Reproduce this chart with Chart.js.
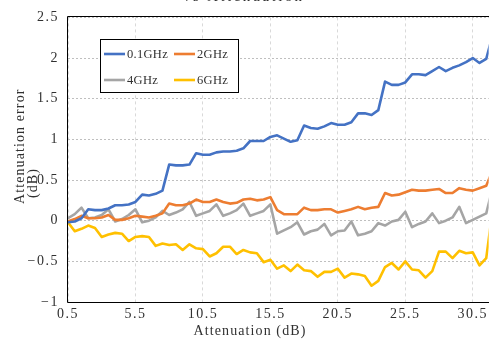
<!DOCTYPE html>
<html>
<head>
<meta charset="utf-8">
<script src="https://cdn.jsdelivr.net/npm/chart.js@4.4.1/dist/chart.umd.min.js"></script>
<style>
  html, body { margin: 0; padding: 0; background: #ffffff; }
  #wrap { width: 489px; height: 345px; }
</style>
</head>
<body>
<div id="wrap"><canvas id="c" width="489" height="345"></canvas></div>
<script>
// Attenuation setting (dB)
const attenuation = [
  0.5, 1, 1.5, 2, 2.5, 3, 3.5, 4, 4.5, 5, 5.5, 6, 6.5, 7, 7.5, 8,
  8.5, 9, 9.5, 10, 10.5, 11, 11.5, 12, 12.5, 13, 13.5, 14, 14.5, 15, 15.5, 16,
  16.5, 17, 17.5, 18, 18.5, 19, 19.5, 20, 20.5, 21, 21.5, 22, 22.5, 23, 23.5, 24,
  24.5, 25, 25.5, 26, 26.5, 27, 27.5, 28, 28.5, 29, 29.5, 30, 30.5, 31, 31.5, 32
];

// Attenuation error (dB) per frequency
const err01GHz = [
  -0.02, -0.01, 0.03, 0.14, 0.13, 0.13, 0.15, 0.19, 0.19, 0.20, 0.23, 0.32, 0.31, 0.33, 0.37, 0.69,
  0.68, 0.68, 0.69, 0.83, 0.81, 0.81, 0.84, 0.85, 0.85, 0.86, 0.89, 0.98, 0.98, 0.98, 1.03, 1.05,
  1.01, 0.97, 0.99, 1.17, 1.14, 1.13, 1.16, 1.20, 1.18, 1.18, 1.21, 1.32, 1.32, 1.30, 1.36, 1.71,
  1.67, 1.67, 1.70, 1.80, 1.80, 1.79, 1.84, 1.89, 1.84, 1.88, 1.91, 1.95, 2.00, 1.94, 1.99, 2.30
];
const err2GHz = [
  -0.01, 0.02, 0.06, 0.03, 0.03, 0.04, 0.07, 0.01, 0.01, 0.03, 0.06, 0.05, 0.04, 0.06, 0.09, 0.21,
  0.19, 0.19, 0.21, 0.26, 0.23, 0.23, 0.26, 0.23, 0.21, 0.22, 0.26, 0.27, 0.25, 0.26, 0.29, 0.13,
  0.08, 0.08, 0.08, 0.16, 0.13, 0.13, 0.14, 0.14, 0.10, 0.12, 0.14, 0.17, 0.14, 0.16, 0.17, 0.34,
  0.31, 0.32, 0.35, 0.38, 0.37, 0.37, 0.38, 0.39, 0.34, 0.34, 0.40, 0.38, 0.37, 0.40, 0.43, 0.63
];
const err4GHz = [
  0.03, 0.08, 0.16, 0.03, 0.04, 0.07, 0.14, -0.01, 0.02, 0.07, 0.14, -0.02, 0.00, 0.04, 0.12, 0.07,
  0.10, 0.14, 0.23, 0.06, 0.09, 0.12, 0.20, 0.06, 0.09, 0.13, 0.21, 0.06, 0.09, 0.12, 0.20, -0.16,
  -0.12, -0.08, -0.02, -0.17, -0.13, -0.11, -0.04, -0.18, -0.13, -0.12, -0.01, -0.18, -0.16, -0.13, -0.03, -0.06,
  -0.01, 0.01, 0.11, -0.08, -0.04, -0.01, 0.09, -0.03, 0.00, 0.04, 0.17, -0.03, 0.01, 0.05, 0.09, 0.42
];
const err6GHz = [
  -0.02, -0.13, -0.10, -0.06, -0.09, -0.20, -0.17, -0.15, -0.16, -0.25, -0.20, -0.19, -0.20, -0.31, -0.28, -0.30,
  -0.29, -0.36, -0.29, -0.34, -0.35, -0.44, -0.40, -0.32, -0.32, -0.41, -0.36, -0.39, -0.40, -0.51, -0.48, -0.59,
  -0.55, -0.62, -0.54, -0.61, -0.62, -0.69, -0.63, -0.63, -0.59, -0.70, -0.65, -0.66, -0.68, -0.80, -0.74, -0.57,
  -0.52, -0.60, -0.50, -0.60, -0.61, -0.70, -0.62, -0.38, -0.38, -0.46, -0.37, -0.40, -0.39, -0.55, -0.46, 0.17
];

const seriesNames = ['0.1GHz', '2GHz', '4GHz', '6GHz'];
const seriesColors = ['#4472C4', '#ED7D31', '#A5A5A5', '#FFC000'];

const xTicks = [0.5, 5.5, 10.5, 15.5, 20.5, 25.5, 30.5];
const yTicks = [-1, -0.5, 0, 0.5, 1, 1.5, 2, 2.5];
const yTickLabels = ['\u22121', '\u22120.5', '0', '0.5', '1', '1.5', '2', '2.5'];

const chartTitle = 'vs Attenuation';
const xTitle = 'Attenuation (dB)';
const yTitleLines = ['Attenuation error', '(dB)'];

const SERIF = '"Liberation Serif", "DejaVu Serif", serif';
const TEXT = '#303030';

const allSeries = [err01GHz, err2GHz, err4GHz, err6GHz];
const datasets = allSeries.map((vals, k) => ({
  label: seriesNames[k],
  data: vals.map((v, i) => ({ x: attenuation[i], y: v })),
  borderColor: seriesColors[k],
  backgroundColor: seriesColors[k],
  borderWidth: 2.6,
  pointRadius: 0,
  tension: 0,
  borderJoinStyle: 'round',
  borderCapStyle: 'round'
}));

// wide character spacing for the tick labels drawn by the scales
const spacing = {
  id: 'spacing',
  beforeDraw(chart) { chart.ctx.letterSpacing = '1.5px'; },
  afterDraw(chart) { chart.ctx.letterSpacing = '0px'; }
};

// frame, titles and the boxed legend
const decor = {
  id: 'decor',
  afterDraw(chart) {
    const { ctx, chartArea: a } = chart;
    ctx.save();

    // frame on left, top and bottom
    ctx.strokeStyle = '#000000';
    ctx.lineWidth = 1;
    ctx.beginPath();
    ctx.moveTo(a.right + 2, Math.round(a.top) - 0.5);
    ctx.lineTo(Math.round(a.left) - 0.5, Math.round(a.top) - 0.5);
    ctx.lineTo(Math.round(a.left) - 0.5, Math.round(a.bottom) + 0.5);
    ctx.lineTo(a.right + 2, Math.round(a.bottom) + 0.5);
    ctx.stroke();

    ctx.fillStyle = TEXT;

    // chart title, running off the top edge
    ctx.letterSpacing = '2.4px';
    ctx.font = '15px ' + SERIF;
    ctx.textAlign = 'left';
    ctx.textBaseline = 'alphabetic';
    ctx.fillText(chartTitle, 183, 0.5);

    // x axis title
    ctx.letterSpacing = '1.1px';
    ctx.font = '14px ' + SERIF;
    ctx.textAlign = 'center';
    ctx.textBaseline = 'middle';
    ctx.fillText(xTitle, 250, 331);

    // y axis title, two rotated lines
    ctx.save();
    ctx.translate(24, 204);
    ctx.rotate(-Math.PI / 2);
    ctx.textAlign = 'left';
    ctx.textBaseline = 'alphabetic';
    ctx.fillText(yTitleLines[0], 0, 0);
    ctx.fillText(yTitleLines[1], 6, 13);
    ctx.restore();

    // legend box
    ctx.letterSpacing = '0.3px';
    const bx = 100.5, by = 39.5, bw = 138, bh = 53;
    ctx.fillStyle = '#ffffff';
    ctx.fillRect(bx, by, bw, bh);
    ctx.strokeStyle = '#000000';
    ctx.lineWidth = 1;
    ctx.strokeRect(bx, by, bw, bh);
    const cols = [104, 174];
    const rows = [54, 80];
    ctx.font = '12.5px ' + SERIF;
    ctx.textAlign = 'left';
    ctx.textBaseline = 'middle';
    chart.data.datasets.forEach((ds, k) => {
      const cx = cols[k % 2], cy = rows[Math.floor(k / 2)];
      ctx.strokeStyle = ds.borderColor;
      ctx.lineWidth = 2.6;
      ctx.beginPath();
      ctx.moveTo(cx, cy);
      ctx.lineTo(cx + 21, cy);
      ctx.stroke();
      ctx.fillStyle = TEXT;
      ctx.fillText(ds.label, cx + 23, cy + 1);
    });

    ctx.restore();
  }
};

new Chart(document.getElementById('c'), {
  type: 'line',
  data: { datasets },
  options: {
    responsive: false,
    animation: false,
    devicePixelRatio: 1,
    layout: { padding: { top: 8, right: 0, left: 0, bottom: 0 } },
    plugins: { legend: { display: false }, tooltip: { enabled: false }, title: { display: false } },
    scales: {
      x: {
        type: 'linear',
        min: 0.5,
        max: 31.68,
        afterBuildTicks(scale) { scale.ticks = xTicks.map(v => ({ value: v })); },
        afterFit(scale) { scale.height = 43; },
        ticks: {
          autoSkip: false,
          maxRotation: 0,
          padding: 4,
          color: TEXT,
          font: { family: SERIF, size: 14 },
          callback: v => v.toFixed(1)
        },
        grid: { color: '#d9d9d9', lineWidth: 1, drawTicks: false },
        border: { display: false, dash: [3, 3] }
      },
      y: {
        min: -1,
        max: 2.5,
        afterBuildTicks(scale) { scale.ticks = yTicks.map(v => ({ value: v })); },
        afterFit(scale) { scale.width = 68; },
        ticks: {
          autoSkip: false,
          padding: 9,
          color: TEXT,
          font: { family: SERIF, size: 14 },
          callback: v => yTickLabels[yTicks.indexOf(v)]
        },
        grid: { color: '#bfbfbf', lineWidth: 1, drawTicks: false },
        border: { display: false, dash: [2, 2] }
      }
    }
  },
  plugins: [spacing, decor]
});
</script>
</body>
</html>
